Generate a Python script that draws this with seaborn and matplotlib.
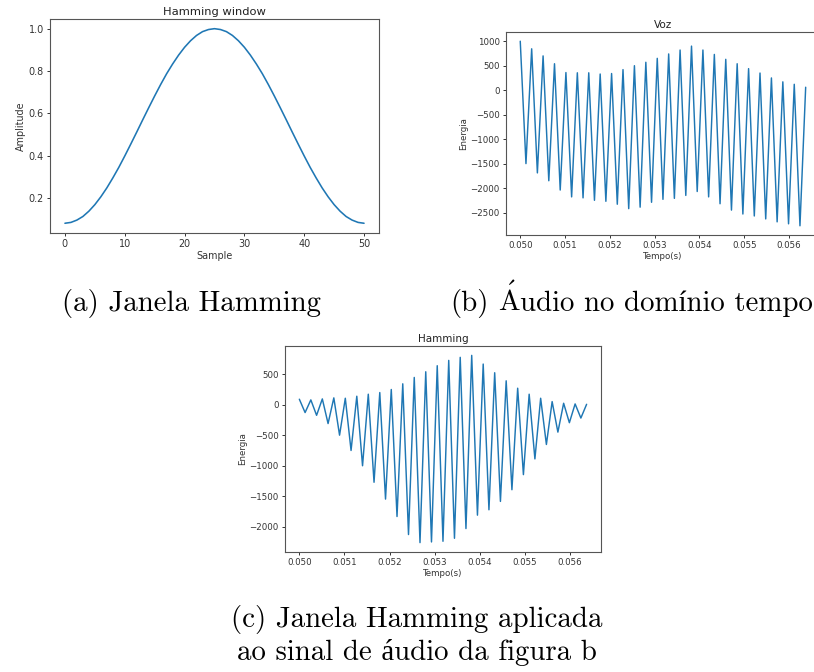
import numpy as np
import pandas as pd
import matplotlib
matplotlib.use("Agg")
import matplotlib.pyplot as plt
import seaborn as sns

# ---- data ----
samples = list(range(51))
hamming_amp = [0.080, 0.084, 0.095, 0.112, 0.137, 0.168, 0.205, 0.247, 0.294, 0.344,
               0.398, 0.454, 0.511, 0.569, 0.626, 0.682, 0.736, 0.787, 0.833, 0.875,
               0.912, 0.943, 0.968, 0.986, 0.996, 1.000, 0.996, 0.986, 0.968, 0.943,
               0.912, 0.875, 0.833, 0.787, 0.736, 0.682, 0.626, 0.569, 0.511, 0.454,
               0.398, 0.344, 0.294, 0.247, 0.205, 0.168, 0.137, 0.112, 0.095, 0.084, 0.080]

tempo = [0.050 + 0.0001274 * i for i in range(51)]

voz = [1000, -1500, 845, -1690, 700, -1850, 540, -2040, 360, -2180,
       355, -2200, 355, -2250, 330, -2270, 340, -2330, 420, -2420,
       500, -2390, 570, -2290, 650, -2230, 740, -2210, 820, -2150,
       900, -2070, 820, -2180, 730, -2320, 630, -2450, 540, -2530,
       440, -2570, 350, -2630, 250, -2690, 170, -2730, 120, -2770, 60]

hamming_voz = [88, -130, 77, -175, 93, -310, 110, -500, 104, -750,
               137, -1000, 170, -1270, 197, -1545, 247, -1830, 340, -2125,
               444, -2257, 537, -2246, 636, -2235, 723, -2186, 773, -2027,
               805, -1808, 663, -1720, 521, -1583, 389, -1392, 268, -1145,
               170, -888, 104, -652, 49, -450, 22, -296, 11, -220, 5]

xticks_t = [0.050, 0.051, 0.052, 0.053, 0.054, 0.055, 0.056]

sns.set_style("ticks")
plt.rcParams['font.family'] = ['DejaVu Sans']
plt.rcParams['mathtext.fontset'] = 'cm'
BLUE = "#1f77b4"
SPINE = "#555555"

W, H = 814, 672
fig = plt.figure(figsize=(W / 100, H / 100), dpi=100)


def style_axes(ax, fs, title, xlabel, ylabel):
    ax.set_title(title, fontsize=fs * 1.2, color="#222222", pad=3)
    ax.set_xlabel(xlabel, fontsize=fs, color="#333333", labelpad=1.5)
    ax.set_ylabel(ylabel, fontsize=fs, color="#333333", labelpad=2)
    ax.tick_params(labelsize=fs, colors="#333333", length=2.5, width=0.7, pad=2)
    for s in ax.spines.values():
        s.set_visible(True)
        s.set_color(SPINE)
        s.set_linewidth(0.8)


# (a) Hamming window
ax_a = fig.add_axes([0.0614, 0.6533, 0.4042, 0.3185])
sns.lineplot(x=samples, y=hamming_amp, ax=ax_a, color=BLUE, linewidth=1.15)
ax_a.set_yticks([0.2, 0.4, 0.6, 0.8, 1.0])
ax_a.set_xticks([0, 10, 20, 30, 40, 50])
style_axes(ax_a, 6.9, "Hamming window", "Sample", "Amplitude")

# (b) Voz
ax_b = fig.add_axes([0.6216, 0.6503, 0.3857, 0.3021])
sns.lineplot(x=tempo, y=voz, ax=ax_b, color=BLUE, linewidth=1.05)
ax_b.set_xticks(xticks_t)
ax_b.set_xticklabels([f"{v:.3f}" for v in xticks_t])
ax_b.set_yticks([1000, 500, 0, -500, -1000, -1500, -2000, -2500])
style_axes(ax_b, 6.2, "Voz", "Tempo(s)", "Energia")

# (c) Hamming applied
ax_c = fig.add_axes([0.3501, 0.1786, 0.3882, 0.3065])
sns.lineplot(x=tempo, y=hamming_voz, ax=ax_c, color=BLUE, linewidth=1.05)
ax_c.set_xticks(xticks_t)
ax_c.set_xticklabels([f"{v:.3f}" for v in xticks_t])
ax_c.set_yticks([500, 0, -500, -1000, -1500, -2000])
style_axes(ax_c, 6.2, "Hamming", "Tempo(s)", "Energia")

# captions
cap_kw = dict(fontsize=20.8, family=['cmr10', 'Liberation Serif'], color="black")
fig.text(192 / W, 1 - 311 / H, "(a) Janela Hamming", ha="center", va="baseline", **cap_kw)

# caption (b): cmr10 lacks a precomposed "Á", so it is set in three pieces
bx, by = 450 / W, 1 - 311 / H
renderer = fig.canvas.get_renderer()


def width_px(s):
    t = fig.text(bx, by, s, ha="left", va="baseline", **cap_kw)
    e = t.get_window_extent(renderer)
    t.remove()
    return e


e_pre = width_px("(b) A")
e_A = width_px("A")
e_preu = width_px("(b) Au")
e_u = width_px("u")
a_center = (e_pre.x1 - e_A.width / 2) / W
u_left = (e_preu.x1 - e_u.width) / W

fig.text(bx, by, "(b)", ha="left", va="baseline", **cap_kw)
fig.text(a_center, by, r"$\mathrm{\acute{A}}$", ha="center", va="baseline", **cap_kw)
fig.text(u_left, by, "udio no domínio tempo", ha="left", va="baseline", **cap_kw)

fig.text(417 / W, 1 - 627 / H, "(c) Janela Hamming aplicada", ha="center", va="baseline", **cap_kw)
fig.text(417 / W, 1 - 660 / H, "ao sinal de áudio da figura b", ha="center", va="baseline", **cap_kw)

fig.savefig("out.png", dpi=100)
